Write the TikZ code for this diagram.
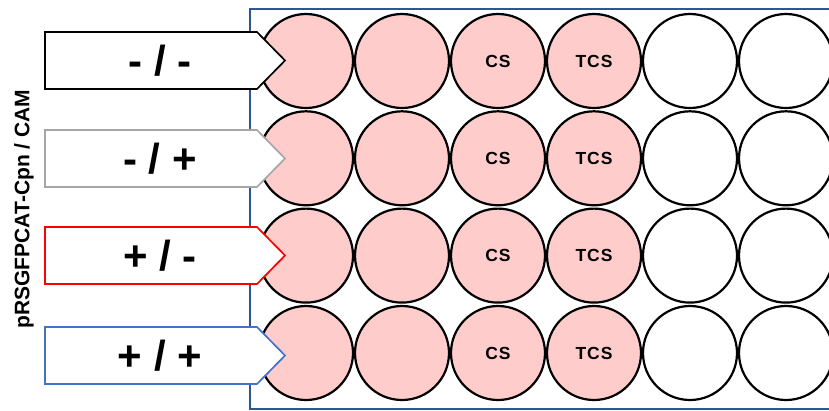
\documentclass[tikz,border=0pt]{standalone}
\usepackage{fontspec}
\setmainfont{Liberation Sans}
\definecolor{platecol}{HTML}{2F5597}
\definecolor{wellpink}{HTML}{FFCCCC}
\definecolor{tagblue}{HTML}{4472C4}
\definecolor{taggray}{HTML}{A6A6A6}
\definecolor{tagred}{HTML}{FF0000}
\begin{document}
\begin{tikzpicture}[x=1pt,y=-1pt,
  well/.style={circle,draw=black,line width=2.2pt,minimum size=94pt,inner sep=0pt,
    font=\bfseries\fontsize{17.5}{17.5}\selectfont},
  tag/.style={line width=1.7pt,fill=white,line join=miter},
  taglabel/.style={font=\bfseries\fontsize{42}{42}\selectfont,inner sep=0pt}]
\useasboundingbox (0,0) rectangle (829,410);
\begin{scope}
  \clip (0,0) rectangle (829,410);
  % plate outline (runs off the right edge)
  \node[draw=platecol,line width=2pt,minimum width=620pt,minimum height=400pt,
        inner sep=0pt,anchor=north west] (plate) at (249,7.5) {};
  % wells: 4 rows x 6 columns
  \foreach \r/\yy in {1/61,2/158.3,3/255.6,4/353}{
    \foreach \c in {1,...,6}{
      \pgfmathsetmacro{\xx}{306+96*(\c-1)}
      \ifnum\c<5 \def\wfill{wellpink}\else\def\wfill{white}\fi
      \ifnum\c=3 \def\wtext{C\kern1pt S}\else
        \ifnum\c=4 \def\wtext{T\kern1pt C\kern1pt S}\else\def\wtext{}\fi\fi
      \node[well,fill=\wfill] (w-\r-\c) at (\xx,\yy) {\wtext};
    }
  }
\end{scope}
% condition tags drawn over the first column of wells
\foreach \r/\yy/\col/\txt in {1/60.5/black/{- / -},2/158.5/taggray/{- / +},
                             3/255.5/tagred/{+ / -},4/355.5/tagblue/{+ / +}}{
  \draw[tag,draw=\col] (45,\yy-28.5) -- (257,\yy-28.5) -- (285,\yy)
        -- (257,\yy+28.5) -- (45,\yy+28.5) -- cycle;
  \node[taglabel] (tag-\r) at (160,\yy) {\txt};
}
% axis caption
\node[rotate=90,font=\bfseries\fontsize{21}{21}\selectfont,inner sep=0pt]
  (caption) at (24,209) {pRSGFPCAT-Cpn / CAM};
\end{tikzpicture}
\end{document}
